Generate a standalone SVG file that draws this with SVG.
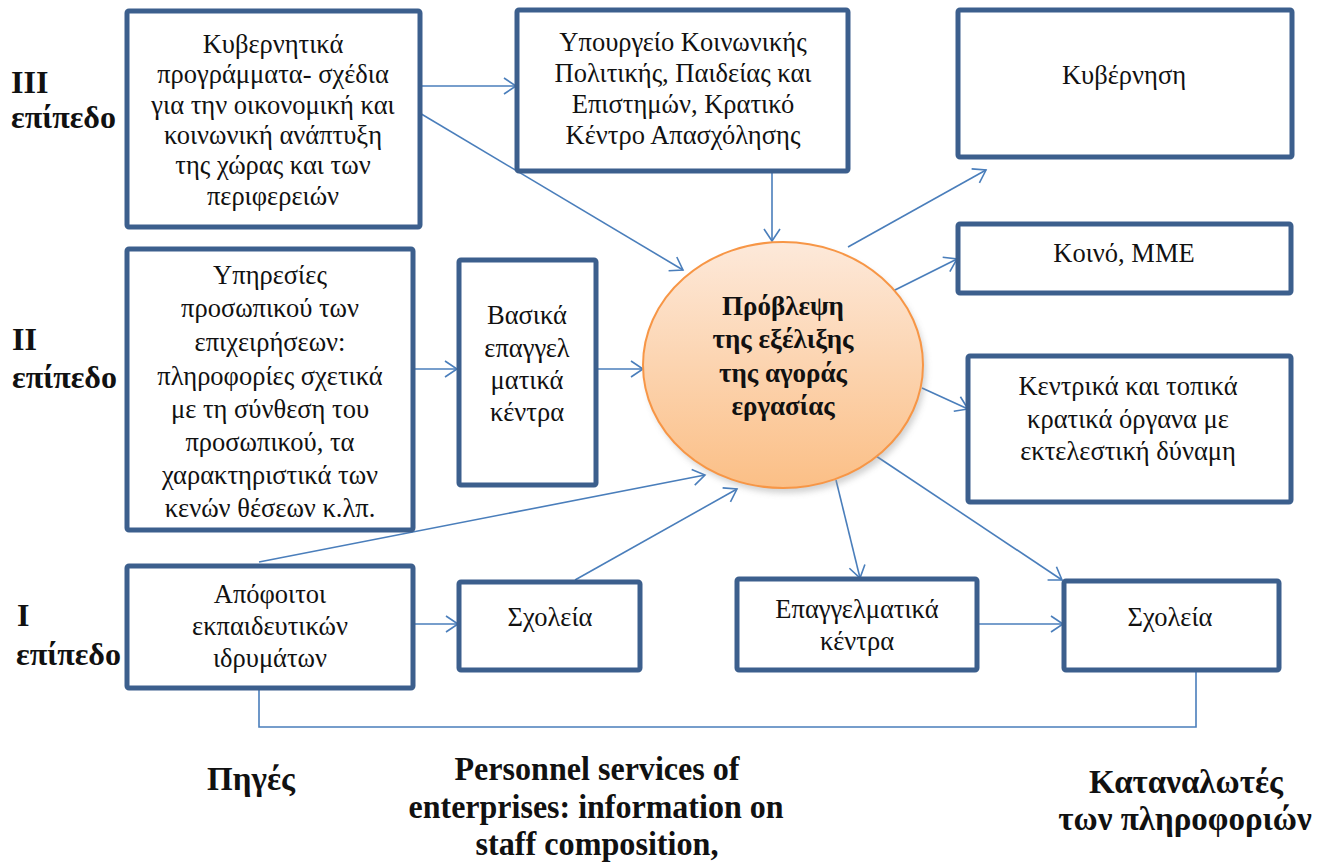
<svg xmlns="http://www.w3.org/2000/svg" width="1325" height="863" viewBox="0 0 1325 863">
<style>
.box{fill:#fff;stroke:#3c5f8d;stroke-width:5;}
.t{font-size:26.5px;fill:#111;text-anchor:middle;}
.b{font-size:32px;font-weight:bold;fill:#111;}
.bl{font-size:33px;font-weight:bold;fill:#111;text-anchor:middle;}
.et{font-size:27px;font-weight:bold;fill:#111;text-anchor:middle;}
.c{fill:none;stroke:#4a7ebb;stroke-width:1.6;}
</style>
<defs>
<marker id="a" markerUnits="userSpaceOnUse" markerWidth="20" markerHeight="20" refX="14" refY="10" orient="auto">
<path d="M2,2 L14,10 L2,18" fill="none" stroke="#4a7ebb" stroke-width="1.6"/>
</marker>
<linearGradient id="g" x1="0" y1="0" x2="0" y2="1">
<stop offset="0" stop-color="#fde9da"/>
<stop offset="1" stop-color="#fbbf86"/>
</linearGradient>
<filter id="sh" x="-20%" y="-20%" width="140%" height="140%">
<feGaussianBlur stdDeviation="3"/>
</filter>
</defs>

<g font-family="Liberation Serif, Times New Roman, serif">
<g id="levels">
<text class="b" x="11" y="93">III</text>
<text class="b" x="11" y="128">επίπεδο</text>
<text class="b" x="12" y="350">II</text>
<text class="b" x="12" y="388">επίπεδο</text>
<text class="b" x="17" y="626">I</text>
<text class="b" x="16" y="665">επίπεδο</text>
</g>

<g id="connectors">
<line class="c" x1="420" y1="86" x2="516" y2="86" marker-end="url(#a)"/>
<line class="c" x1="418" y1="112" x2="683" y2="270" marker-end="url(#a)"/>
<line class="c" x1="772" y1="158" x2="772" y2="241" marker-end="url(#a)"/>
<line class="c" x1="848" y1="247" x2="986" y2="170" marker-end="url(#a)"/>
<line class="c" x1="893" y1="291" x2="957" y2="259" marker-end="url(#a)"/>
<line class="c" x1="922" y1="388" x2="968" y2="409" marker-end="url(#a)"/>
<line class="c" x1="413" y1="369" x2="457" y2="369" marker-end="url(#a)"/>
<line class="c" x1="596" y1="369" x2="643" y2="369" marker-end="url(#a)"/>
<line class="c" x1="259" y1="562" x2="705" y2="475" marker-end="url(#a)"/>
<line class="c" x1="575" y1="580" x2="737" y2="489" marker-end="url(#a)"/>
<line class="c" x1="836" y1="480" x2="860" y2="578" marker-end="url(#a)"/>
<line class="c" x1="876" y1="456" x2="1062" y2="580" marker-end="url(#a)"/>
<line class="c" x1="413" y1="624" x2="458" y2="624" marker-end="url(#a)"/>
<line class="c" x1="977" y1="624" x2="1063" y2="624" marker-end="url(#a)"/>
<polyline class="c" points="259,688 259,727 1196,727 1196,670"/>
</g>

<g id="n-gov-programs">
<rect class="box" x="127" y="11" width="293" height="216" rx="2"/>
<text class="t" x="273" y="53">Κυβερνητικά</text>
<text class="t" x="273" y="83">προγράμματα- σχέδια</text>
<text class="t" x="273" y="114">για την οικονομική και</text>
<text class="t" x="273" y="144">κοινωνική ανάπτυξη</text>
<text class="t" x="273" y="174">της χώρας και των</text>
<text class="t" x="273" y="205">περιφερειών</text>
</g>

<g id="n-ministry">
<rect class="box" x="517" y="10" width="331" height="161" rx="2"/>
<text class="t" x="683" y="51">Υπουργείο Κοινωνικής</text>
<text class="t" x="683" y="82">Πολιτικής, Παιδείας και</text>
<text class="t" x="683" y="113">Επιστημών, Κρατικό</text>
<text class="t" x="683" y="144">Κέντρο Απασχόλησης</text>
</g>

<g id="n-government">
<rect class="box" x="958" y="10" width="334" height="147" rx="2"/>
<text class="t" x="1124" y="84">Κυβέρνηση</text>
</g>

<g id="n-public">
<rect class="box" x="958" y="224" width="333" height="69" rx="2"/>
<text class="t" x="1124" y="262">Κοινό, ΜΜΕ</text>
</g>

<g id="n-state-bodies">
<rect class="box" x="968" y="356" width="323" height="146" rx="2"/>
<text class="t" x="1128" y="395">Κεντρικά και τοπικά</text>
<text class="t" x="1128" y="428">κρατικά όργανα με</text>
<text class="t" x="1128" y="460">εκτελεστική δύναμη</text>
</g>

<g id="n-personnel">
<rect class="box" x="127" y="249" width="286" height="281" rx="2"/>
<text class="t" x="270" y="284">Υπηρεσίες</text>
<text class="t" x="270" y="317">προσωπικού των</text>
<text class="t" x="270" y="351">επιχειρήσεων:</text>
<text class="t" x="270" y="385">πληροφορίες σχετικά</text>
<text class="t" x="270" y="418">με τη σύνθεση του</text>
<text class="t" x="270" y="451">προσωπικού, τα</text>
<text class="t" x="270" y="484">χαρακτηριστικά των</text>
<text class="t" x="270" y="517">κενών θέσεων κ.λπ.</text>
</g>

<g id="n-basic-centers">
<rect class="box" x="459" y="260" width="137" height="225" rx="2"/>
<text class="t" x="527" y="324">Βασικά</text>
<text class="t" x="527" y="357">επαγγελ</text>
<text class="t" x="527" y="389">ματικά</text>
<text class="t" x="527" y="421">κέντρα</text>
</g>

<g id="n-forecast">
<ellipse cx="786" cy="370" rx="140" ry="123" fill="#999" opacity="0.45" filter="url(#sh)"/>
<ellipse cx="783" cy="365" rx="140" ry="123" fill="url(#g)" stroke="#f79646" stroke-width="2"/>
<text class="et" x="783" y="315">Πρόβλεψη</text>
<text class="et" x="783" y="348">της εξέλιξης</text>
<text class="et" x="783" y="382">της αγοράς</text>
<text class="et" x="783" y="415">εργασίας</text>
</g>

<g id="n-graduates">
<rect class="box" x="127" y="566" width="286" height="122" rx="2"/>
<text class="t" x="270" y="603">Απόφοιτοι</text>
<text class="t" x="270" y="635">εκπαιδευτικών</text>
<text class="t" x="270" y="667">ιδρυμάτων</text>
</g>

<g id="n-schools-1">
<rect class="box" x="459" y="582" width="181" height="88" rx="2"/>
<text class="t" x="550" y="626">Σχολεία</text>
</g>

<g id="n-vocational">
<rect class="box" x="737" y="579" width="240" height="91" rx="2"/>
<text class="t" x="857" y="618">Επαγγελματικά</text>
<text class="t" x="857" y="650">κέντρα</text>
</g>

<g id="n-schools-2">
<rect class="box" x="1064" y="581" width="215" height="89" rx="2"/>
<text class="t" x="1170" y="626">Σχολεία</text>
</g>

<g id="bottom-labels">
<text class="bl" x="251" y="790">Πηγές</text>
<text class="bl" x="597" y="780" textLength="285" lengthAdjust="spacingAndGlyphs">Personnel services of</text>
<text class="bl" x="596" y="818" textLength="375" lengthAdjust="spacingAndGlyphs">enterprises: information on</text>
<text class="bl" x="597" y="855" textLength="243" lengthAdjust="spacingAndGlyphs">staff composition,</text>
<text class="bl" x="1186" y="793">Καταναλωτές</text>
<text class="bl" x="1185" y="830">των πληροφοριών</text>
</g>
</g>
</svg>
